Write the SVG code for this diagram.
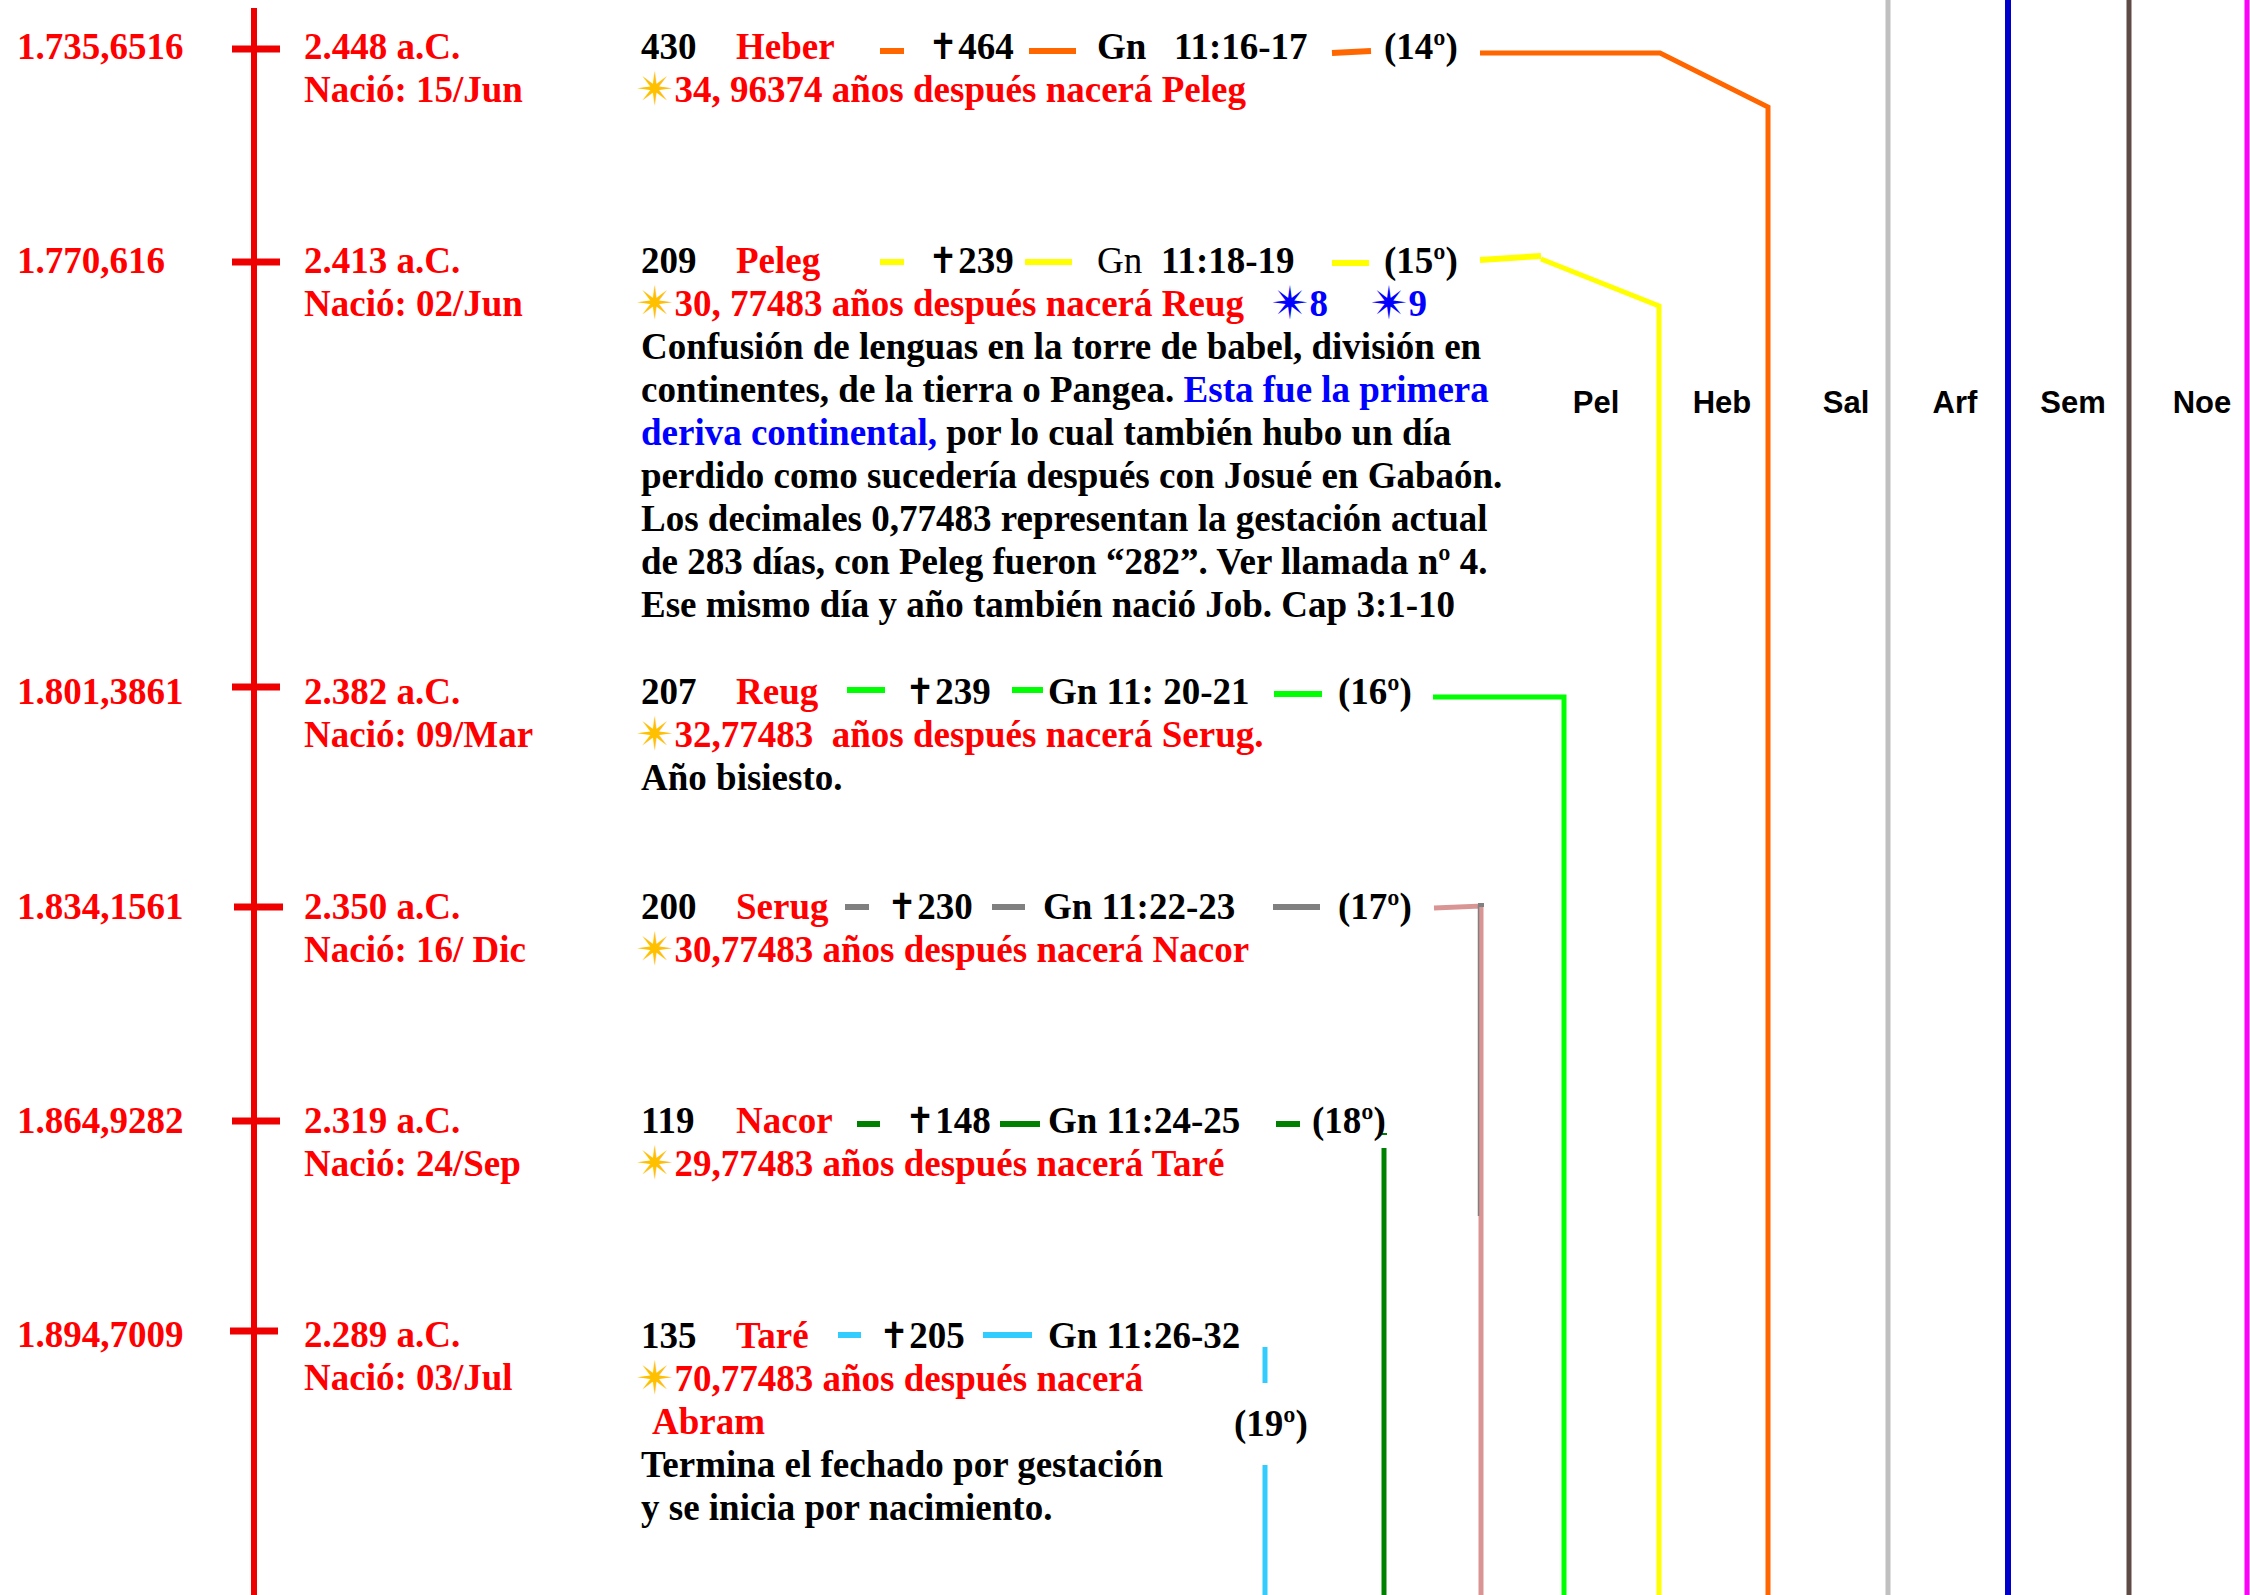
<svg xmlns="http://www.w3.org/2000/svg" width="2250" height="1595" viewBox="0 0 2250 1595">
<style>
text{font-family:"Liberation Serif","Times New Roman",serif;font-weight:bold;font-size:37px;fill:#000}
.r{fill:#ff0000}
.b{fill:#0000ff}
.n{font-weight:normal}
.star{font-family:"DejaVu Sans",sans-serif;font-size:46px;fill:#ffc000;font-weight:normal}
.bstar{font-family:"DejaVu Sans",sans-serif;font-size:46px;fill:#0000ff;font-weight:normal}
.cross{font-family:"DejaVu Sans",sans-serif;font-size:36px;font-weight:bold}
.lab{font-family:"Liberation Sans",Arial,sans-serif;font-size:31px;text-anchor:middle}
.tick{stroke:#ee0000;stroke-width:7}
line,polyline,path{fill:none}
</style>
<rect width="2250" height="1595" fill="#fff"/>

<g id="axis">
<line x1="254" y1="8" x2="254" y2="1595" stroke="#ee0000" stroke-width="6"/>
<line class="tick" x1="232" y1="49" x2="280" y2="49"/>
<line class="tick" x1="232" y1="262" x2="280" y2="262"/>
<line class="tick" x1="232" y1="687" x2="280" y2="687"/>
<line class="tick" x1="234" y1="907" x2="283" y2="907"/>
<line class="tick" x1="232" y1="1121" x2="280" y2="1121"/>
<line class="tick" x1="230" y1="1331" x2="278" y2="1331"/>
</g>

<g id="columns">
<line x1="1888" y1="0" x2="1888" y2="1595" stroke="#c0c0c0" stroke-width="5"/>
<line x1="2008" y1="0" x2="2008" y2="1595" stroke="#0000cc" stroke-width="6"/>
<line x1="2129" y1="0" x2="2129" y2="1595" stroke="#5f4b45" stroke-width="5"/>
<line x1="2247" y1="0" x2="2247" y2="1595" stroke="#ff00ff" stroke-width="5"/>
<text class="lab" x="1596" y="413">Pel</text>
<text class="lab" x="1722" y="413">Heb</text>
<text class="lab" x="1846" y="413">Sal</text>
<text class="lab" x="1955" y="413">Arf</text>
<text class="lab" x="2073" y="413">Sem</text>
<text class="lab" x="2202" y="413">Noe</text>
</g>

<g id="connectors">
<path d="M1480 53 H1660 L1768 107 V1595" stroke="#ff6600" stroke-width="5"/>
<path d="M1480 260 L1541 256" stroke="#ffff00" stroke-width="6"/>
<path d="M1541 259 L1659 306 V1595" stroke="#ffff00" stroke-width="5"/>
<path d="M1433 697 H1564 V1595" stroke="#00ff00" stroke-width="5"/>
<path d="M1434 908 L1481 906 V1595" stroke="#d99594" stroke-width="5"/>
<line x1="1478.5" y1="905" x2="1478.5" y2="1216" stroke="#808080" stroke-width="1.5"/>
<rect x="1478" y="903" width="6" height="4" fill="#808080"/>
<line x1="1382" y1="1134" x2="1387" y2="1134" stroke="#008000" stroke-width="2"/>
<line x1="1384" y1="1148" x2="1384" y2="1595" stroke="#008000" stroke-width="5"/>
<line x1="1265" y1="1347" x2="1265" y2="1383" stroke="#33ccff" stroke-width="5"/>
<line x1="1265" y1="1465" x2="1265" y2="1595" stroke="#33ccff" stroke-width="5"/>
</g>

<g id="heber">
<text class="r" x="17" y="59">1.735,6516</text>
<text class="r" x="304" y="59">2.448 a.C.</text>
<text class="r" x="304" y="102">Nació: 15/Jun</text>
<text x="641" y="59">430</text>
<text class="r" x="736" y="59">Heber</text>
<line x1="880" y1="51" x2="904" y2="51" stroke="#ff6600" stroke-width="6"/>
<text x="928" y="59"><tspan class="cross">✝</tspan>464</text>
<line x1="1029" y1="51" x2="1076" y2="51" stroke="#ff6600" stroke-width="6"/>
<text x="1097" y="59">Gn</text>
<text x="1174" y="59">11:16-17</text>
<line x1="1332" y1="53" x2="1371" y2="51" stroke="#ff6600" stroke-width="6"/>
<text x="1384" y="59">(14º)</text>
<text x="636" y="102"><tspan class="star" dy="3">✴</tspan><tspan class="r" dy="-3">34, 96374 años después nacerá Peleg</tspan></text>
</g>

<g id="peleg">
<text class="r" x="17" y="273">1.770,616</text>
<text class="r" x="304" y="273">2.413 a.C.</text>
<text class="r" x="304" y="316">Nació: 02/Jun</text>
<text x="641" y="273">209</text>
<text class="r" x="736" y="273">Peleg</text>
<line x1="880" y1="262" x2="904" y2="262" stroke="#ffff00" stroke-width="6"/>
<text x="928" y="273"><tspan class="cross">✝</tspan>239</text>
<line x1="1025" y1="262" x2="1072" y2="262" stroke="#ffff00" stroke-width="6"/>
<text class="n" x="1097" y="273">Gn</text>
<text x="1161" y="273">11:18-19</text>
<line x1="1332" y1="263" x2="1369" y2="263" stroke="#ffff00" stroke-width="6"/>
<text x="1384" y="273">(15º)</text>
<text x="636" y="316"><tspan class="star" dy="3">✴</tspan><tspan class="r" dy="-3">30, 77483 años después nacerá Reug</tspan></text>
<text x="1271" y="316"><tspan class="bstar" dy="3">✴</tspan><tspan class="b" dy="-3">8</tspan></text>
<text x="1370" y="316"><tspan class="bstar" dy="3">✴</tspan><tspan class="b" dy="-3">9</tspan></text>
<text x="641" y="359">Confusión de lenguas en la torre de babel, división en</text>
<text x="641" y="402">continentes, de la tierra o Pangea. <tspan class="b">Esta fue la primera</tspan></text>
<text x="641" y="445"><tspan class="b">deriva continental,</tspan> por lo cual también hubo un día</text>
<text x="641" y="488">perdido como sucedería después con Josué en Gabaón.</text>
<text x="641" y="531">Los decimales 0,77483 representan la gestación actual</text>
<text x="641" y="574">de 283 días, con Peleg fueron “282”. Ver llamada nº 4.</text>
<text x="641" y="617">Ese mismo día y año también nació Job. Cap 3:1-10</text>
</g>

<g id="reug">
<text class="r" x="17" y="704">1.801,3861</text>
<text class="r" x="304" y="704">2.382 a.C.</text>
<text class="r" x="304" y="747">Nació: 09/Mar</text>
<text x="641" y="704">207</text>
<text class="r" x="736" y="704">Reug</text>
<line x1="847" y1="690" x2="885" y2="690" stroke="#00ff00" stroke-width="6"/>
<text x="905" y="704"><tspan class="cross">✝</tspan>239</text>
<line x1="1012" y1="690" x2="1043" y2="690" stroke="#00ff00" stroke-width="6"/>
<text x="1048" y="704">Gn 11: 20-21</text>
<line x1="1274" y1="694" x2="1322" y2="694" stroke="#00ff00" stroke-width="6"/>
<text x="1338" y="704">(16º)</text>
<text x="636" y="747" xml:space="preserve"><tspan class="star" dy="3">✴</tspan><tspan class="r" dy="-3">32,77483  años después nacerá Serug.</tspan></text>
<text x="641" y="790">Año bisiesto.</text>
</g>

<g id="serug">
<text class="r" x="17" y="919">1.834,1561</text>
<text class="r" x="304" y="919">2.350 a.C.</text>
<text class="r" x="304" y="962">Nació: 16/ Dic</text>
<text x="641" y="919">200</text>
<text class="r" x="736" y="919">Serug</text>
<line x1="845" y1="907" x2="869" y2="907" stroke="#808080" stroke-width="6"/>
<text x="887" y="919"><tspan class="cross">✝</tspan>230</text>
<line x1="992" y1="907" x2="1025" y2="907" stroke="#808080" stroke-width="6"/>
<text x="1043" y="919">Gn 11:22-23</text>
<line x1="1273" y1="907" x2="1320" y2="907" stroke="#808080" stroke-width="6"/>
<text x="1338" y="919">(17º)</text>
<text x="636" y="962"><tspan class="star" dy="3">✴</tspan><tspan class="r" dy="-3">30,77483 años después nacerá Nacor</tspan></text>
</g>

<g id="nacor">
<text class="r" x="17" y="1133">1.864,9282</text>
<text class="r" x="304" y="1133">2.319 a.C.</text>
<text class="r" x="304" y="1176">Nació: 24/Sep</text>
<text x="641" y="1133">119</text>
<text class="r" x="736" y="1133">Nacor</text>
<line x1="857" y1="1124" x2="880" y2="1124" stroke="#008000" stroke-width="6"/>
<text x="905" y="1133"><tspan class="cross">✝</tspan>148</text>
<line x1="1000" y1="1124" x2="1040" y2="1124" stroke="#008000" stroke-width="6"/>
<text x="1048" y="1133">Gn 11:24-25</text>
<line x1="1276" y1="1124" x2="1300" y2="1124" stroke="#008000" stroke-width="6"/>
<text x="1312" y="1133">(18º)</text>
<text x="636" y="1176"><tspan class="star" dy="3">✴</tspan><tspan class="r" dy="-3">29,77483 años después nacerá Taré</tspan></text>
</g>

<g id="tare">
<text class="r" x="17" y="1347">1.894,7009</text>
<text class="r" x="304" y="1347">2.289 a.C.</text>
<text class="r" x="304" y="1390">Nació: 03/Jul</text>
<text x="641" y="1348">135</text>
<text class="r" x="736" y="1348">Taré</text>
<line x1="838" y1="1335" x2="861" y2="1335" stroke="#33ccff" stroke-width="6"/>
<text x="879" y="1348"><tspan class="cross">✝</tspan>205</text>
<line x1="983" y1="1335" x2="1032" y2="1335" stroke="#33ccff" stroke-width="6"/>
<text x="1048" y="1348">Gn 11:26-32</text>
<text x="1234" y="1436">(19º)</text>
<text x="636" y="1391"><tspan class="star" dy="3">✴</tspan><tspan class="r" dy="-3">70,77483 años después nacerá</tspan></text>
<text class="r" x="652" y="1434">Abram</text>
<text x="641" y="1477">Termina el fechado por gestación</text>
<text x="641" y="1520">y se inicia por nacimiento.</text>
</g>
</svg>
